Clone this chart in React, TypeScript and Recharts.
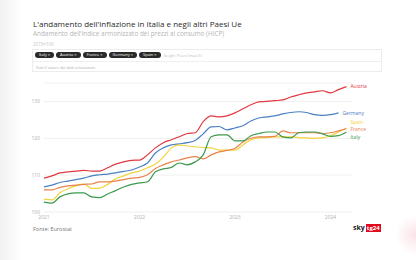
import { LineChart, Line, XAxis, YAxis, CartesianGrid } from 'recharts';

// HICP index (2015=100), monthly from Jan 2021 to Mar 2024
const austria = [109.2, 109.8, 110.6, 110.9, 111.1, 111.3, 111.1, 111.1, 112.0, 113.0, 113.6, 114.0, 114.1, 115.5, 117.4, 118.8, 119.6, 120.4, 121.3, 121.5, 124.5, 126.1, 125.8, 126.1, 126.9, 128.0, 129.1, 129.9, 130.0, 130.2, 130.4, 131.2, 131.8, 132.3, 132.6, 132.9, 132.3, 133.2, 134.0];
const germany = [106.8, 107.3, 108.0, 108.4, 108.8, 109.2, 109.8, 110.1, 110.3, 110.6, 111.0, 111.4, 112.2, 113.3, 116.0, 117.4, 118.2, 118.5, 118.8, 119.4, 121.2, 123.1, 123.2, 122.3, 122.8, 123.4, 124.7, 125.5, 125.8, 126.1, 126.6, 127.0, 127.2, 127.0, 126.4, 126.2, 126.4, 126.9, null];
const spain = [103.5, 103.3, 105.2, 106.3, 107.1, 107.6, 106.4, 106.5, 107.5, 109.0, 109.8, 110.6, 111.1, 112.0, 113.0, 114.9, 117.4, 118.2, 117.9, 117.7, 117.5, 117.4, 116.8, 116.8, 116.8, 118.2, 119.6, 120.1, 120.2, 120.4, 120.4, 120.4, 120.2, 120.1, 120.0, 120.1, 120.7, 121.7, 122.8];
const france = [106.0, 106.0, 106.7, 107.1, 107.3, 107.5, 107.6, 108.2, 108.2, 108.4, 108.8, 109.2, 109.4, 110.1, 111.8, 112.8, 113.6, 114.1, 114.7, 115.0, 114.4, 115.5, 116.3, 116.7, 117.3, 119.0, 120.0, 120.4, 120.4, 120.5, 122.0, 121.5, 121.5, 121.5, 121.5, 121.3, 121.5, 122.0, 122.6];
const italy = [102.7, 102.4, 104.1, 104.9, 105.2, 105.2, 104.1, 103.9, 104.9, 105.8, 106.8, 107.5, 107.9, 108.2, 110.9, 111.7, 112.1, 113.3, 112.8, 113.6, 115.5, 120.4, 120.9, 120.9, 119.3, 119.3, 120.7, 121.3, 121.7, 121.7, 120.4, 120.1, 121.5, 121.7, 121.7, 121.2, 120.5, 120.7, 121.7];

const yearTicks = [0, 12, 24, 36];
const yearLabels = ['2021', '2022', '2023', '2024'];
const valueTicks = [100, 110, 120, 130];
const chips = ['Italy', 'Austria', 'France', 'Germany', 'Spain'];

const data = austria.map((v, i) => ({
  m: i,
  Austria: v,
  Germany: germany[i],
  Spain: spain[i],
  France: france[i],
  Italy: italy[i],
}));

const series = [
  { key: 'Austria', color: '#e2383f', dy: 0 },
  { key: 'Germany', color: '#4a80c4', dy: 0 },
  { key: 'Spain', color: '#f3d23a', dy: -6 },
  { key: 'France', color: '#e8834c', dy: 1 },
  { key: 'Italy', color: '#3c9a4c', dy: 5 },
];

const font = '"Open Sans", sans-serif';

function endLabel(name: string, color: string, last: number, dy: number) {
  return (props: any) => {
    if (props.index !== last) return null;
    return (
      <text x={props.x + 4} y={props.y + dy} dy="0.35em" fontSize={5} fill={color} fontFamily={font}>
        {name}
      </text>
    );
  };
}

export default function App() {
  const lastOf = (arr: Array<number | null>) => {
    let k = arr.length - 1;
    while (k > 0 && arr[k] == null) k--;
    return k;
  };
  const lasts: Record<string, number> = {
    Austria: lastOf(austria),
    Germany: lastOf(germany),
    Spain: lastOf(spain),
    France: lastOf(france),
    Italy: lastOf(italy),
  };

  return (
    <div style={{ position: 'fixed', left: 0, top: 0, width: 416, height: 260, background: '#fff', fontFamily: font, overflow: 'hidden' }}>
      <div style={{ position: 'absolute', left: 0, top: 0, width: 22, height: 260, background: 'linear-gradient(to right, #f2f2f2, #fff)' }} />
      <div style={{ position: 'absolute', left: 395, top: 215, width: 40, height: 40, borderRadius: 20, background: 'radial-gradient(circle, #fbe3e8, #fff 70%)' }} />

      <div style={{ position: 'absolute', left: 33, top: 19, fontSize: 8, lineHeight: '9px', color: '#2a2a2a', whiteSpace: 'nowrap' }}>
        L'andamento dell'inflazione in Italia e negli altri Paesi Ue
      </div>
      <div style={{ position: 'absolute', left: 33, top: 30, fontSize: 6.4, lineHeight: '8px', color: '#b5b5b5', whiteSpace: 'nowrap' }}>
        Andamento dell'indice armonizzato dei prezzi al consumo (HICP)
      </div>
      <div style={{ position: 'absolute', left: 33, top: 40.5, fontSize: 4.5, lineHeight: '6px', color: '#c5c5c5' }}>2015=100</div>

      <div style={{ position: 'absolute', left: 32, top: 49, width: 350, height: 23, border: '1px solid #ececec', boxSizing: 'border-box' }}>
        <div style={{ position: 'absolute', left: 2, top: 2, display: 'flex', gap: 2, alignItems: 'center' }}>
          {chips.map((c) => (
            <div key={c} style={{ background: '#2a2a2a', color: '#fff', borderRadius: 4, fontSize: 4, lineHeight: '6px', padding: '0 4px', whiteSpace: 'nowrap' }}>
              {c} ×
            </div>
          ))}
          <div style={{ fontSize: 4, color: '#bbb', marginLeft: 1, whiteSpace: 'nowrap' }}>Scegli i Paesi (max 5)</div>
        </div>
        <div style={{ position: 'absolute', left: 0, right: 0, top: 11, borderTop: '1px solid #f0f0f0' }} />
        <div style={{ position: 'absolute', left: 3, top: 15, fontSize: 4, lineHeight: '5px', color: '#a8a8a8', whiteSpace: 'nowrap' }}>
          Dati il valore dei dati selezionati
        </div>
      </div>

      <div style={{ position: 'absolute', left: 0, top: 0 }}>
        <LineChart width={416} height={260} data={data} margin={{ top: 83, right: 64, bottom: 28, left: 32 }}>
          <CartesianGrid vertical={false} stroke="#efefef" />
          <XAxis
            dataKey="m"
            type="number"
            domain={[0, 38.7]}
            ticks={yearTicks}
            tickFormatter={(v: number) => yearLabels[yearTicks.indexOf(v)]}
            axisLine={false}
            tickLine={false}
            tickSize={0}
            tickMargin={3}
            height={20}
            tick={{ fontSize: 5, fill: '#b0b0b0', fontFamily: font }}
          />
          <YAxis
            type="number"
            domain={[100, 135]}
            ticks={valueTicks}
            axisLine={false}
            tickLine={false}
            tickSize={0}
            tickMargin={4}
            width={12}
            tick={{ fontSize: 5, fill: '#b0b0b0', fontFamily: font }}
          />
          {series.map((s) => (
            <Line
              key={s.key}
              dataKey={s.key}
              stroke={s.color}
              strokeWidth={1.2}
              dot={false}
              type="monotone"
              isAnimationActive={false}
              label={endLabel(s.key, s.color, lasts[s.key], s.dy)}
            />
          ))}
        </LineChart>
      </div>

      <div style={{ position: 'absolute', left: 33, top: 226, fontSize: 5.5, lineHeight: '7px', color: '#777' }}>Fonte: Eurostat</div>
      <div style={{ position: 'absolute', left: 353, top: 224, display: 'flex', alignItems: 'center', gap: 1 }}>
        <span style={{ fontSize: 7, fontWeight: 700, color: '#222', lineHeight: '8px', fontFamily: font }}>sky</span>
        <span style={{ fontSize: 6, fontWeight: 700, color: '#fff', background: '#e10a1e', lineHeight: '8px', padding: '0 1px' }}>tg24</span>
      </div>
    </div>
  );
}
